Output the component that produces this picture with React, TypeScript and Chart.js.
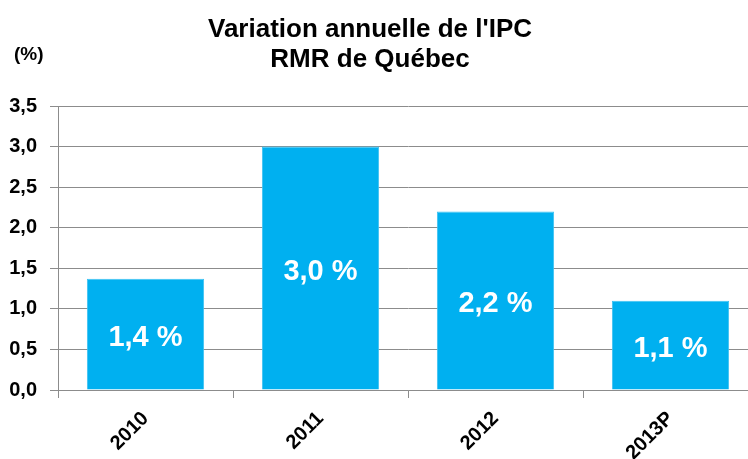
import React, { useEffect, useRef } from "react";
import { Chart, registerables } from "chart.js";

Chart.register(...registerables);

const categories = ["2010", "2011", "2012", "2013P"];
const values = [1.37, 3.0, 2.2, 1.1];
const valueLabels = ["1,4 %", "3,0 %", "2,2 %", "1,1 %"];
const titleLines = ["Variation annuelle de l'IPC", "RMR de Québec"];
const unitLabel = "(%)";

const FONT = "'Liberation Sans', Arial, sans-serif";

const overlayPlugin = {
  id: "overlay",
  afterDatasetsDraw(chart: any) {
    const ctx = chart.ctx;
    const meta = chart.getDatasetMeta(0);
    ctx.save();
    ctx.fillStyle = "#ffffff";
    ctx.font = `bold 29px ${FONT}`;
    ctx.textAlign = "center";
    ctx.textBaseline = "alphabetic";
    meta.data.forEach((bar: any, i: number) => {
      const cy = (bar.y + bar.base) / 2;
      ctx.fillText(valueLabels[i], bar.x, cy + 12);
    });
    ctx.restore();
  },
  afterDraw(chart: any) {
    const ctx = chart.ctx;
    ctx.save();
    ctx.fillStyle = "#000000";
    ctx.textAlign = "center";
    ctx.textBaseline = "alphabetic";
    ctx.font = `bold 26px ${FONT}`;
    ctx.fillText(titleLines[0], 370, 37);
    ctx.fillText(titleLines[1], 370, 67);
    ctx.textAlign = "left";
    ctx.textBaseline = "middle";
    ctx.font = `bold 19px ${FONT}`;
    ctx.fillText(unitLabel, 14, 55);
    ctx.restore();
  },
};

export default function App() {
  const ref = useRef<HTMLCanvasElement | null>(null);
  useEffect(() => {
    if (!ref.current) return;
    const chart = new Chart(ref.current, {
      type: "bar",
      data: {
        labels: categories,
        datasets: [
          {
            data: values,
            backgroundColor: "#00B0F0",
            borderColor: "#3DC3F3",
            borderWidth: 1,
            categoryPercentage: 1,
            barPercentage: 0.67,
          },
        ],
      },
      options: {
        animation: false,
        responsive: false,
        maintainAspectRatio: false,
        layout: { padding: { top: 106, right: 2, left: 0, bottom: 0 } },
        plugins: {
          legend: { display: false },
          title: { display: false },
          tooltip: { enabled: false },
        },
        scales: {
          x: {
            grid: {
              drawOnChartArea: false,
              drawTicks: true,
              tickLength: 8,
              color: "#8c8c8c",
              offset: true,
            },
            border: { color: "#8c8c8c", width: 1 },
            ticks: {
              color: "#000000",
              font: { family: FONT, size: 20, weight: "bold" },
              minRotation: 45,
              maxRotation: 45,
              padding: 9,
            },
            afterFit: (s: any) => {
              s.height = 69;
            },
          },
          y: {
            min: 0,
            max: 3.5,
            ticks: {
              stepSize: 0.5,
              color: "#000000",
              font: { family: FONT, size: 20, weight: "bold" },
              padding: 13,
              callback: (v: any) => Number(v).toFixed(1).replace(".", ","),
            },
            grid: { color: "#8c8c8c", tickLength: 8 },
            border: { color: "#8c8c8c", width: 1 },
            afterFit: (s: any) => {
              s.width = 58;
            },
          },
        },
      },
      plugins: [overlayPlugin],
    });
    return () => chart.destroy();
  }, []);
  return (
    <div style={{ position: "fixed", left: 0, top: 0, width: 760, height: 459, background: "#fff" }}>
      <canvas ref={ref} width={760} height={459} style={{ display: "block" }} />
    </div>
  );
}
